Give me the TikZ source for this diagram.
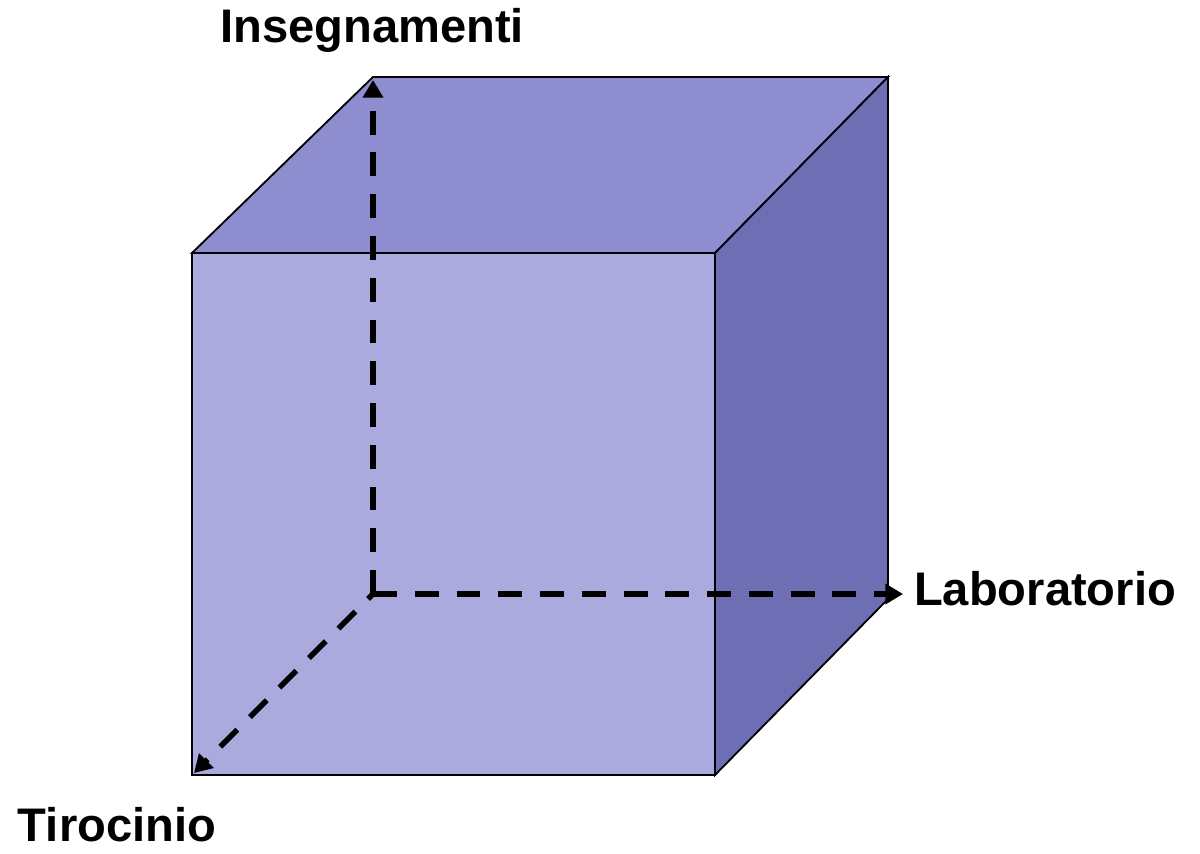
\documentclass[tikz,border=0pt]{standalone}
\usepackage{fontspec}
\setmainfont{Liberation Sans}
\usepackage{xcolor}
\usepackage{tikz}
\usetikzlibrary{calc,arrows.meta}
\definecolor{front}{HTML}{AAAADF}
\definecolor{top}{HTML}{8D8DD0}
\definecolor{side}{HTML}{6E6EB5}
\tikzset{
  edge/.style={draw=black, line width=1.3pt, line join=miter},
  axis/.style={draw=black, line width=3.9pt, dash pattern=on 17pt off 12.7pt,
    -{Triangle[length=12.5pt,width=14pt]}},
  lbl/.style={text=black, inner sep=0pt, font=\fontsize{33.5}{38}\selectfont\bfseries}
}

\begin{document}
\begin{tikzpicture}[x=0.025cm,y=-0.025cm]
  \useasboundingbox (0,0) rectangle (1200,853);
  \coordinate (FA) at (192,253);
  \coordinate (FB) at (715,253);
  \coordinate (FC) at (715,775);
  \coordinate (FD) at (192,775);
  \coordinate (BA) at (373,77);
  \coordinate (BB) at (888,77);
  \coordinate (BC) at (888,599);
  \coordinate (O) at (373,594);

  % faces
  \filldraw[edge, fill=front] (FA)--(FB)--(FC)--(FD)--cycle;
  \filldraw[edge, fill=top] (FA)--(BA)--(BB)--(FB)--cycle;
  \filldraw[edge, fill=side] (FB)--(BB)--(BC)--(FC)--cycle;

  % axes
  \coordinate (up) at (373,80);
  \coordinate (right) at (903,594);
  \coordinate (down) at (194,773);
  \draw[axis] (O)--(up);
  \draw[axis] (O)--(right);
  \draw[axis, dash phase=12pt] (O)--(down);

  \node[lbl] (ins) at (372,30) {Insegnamenti};
  \node[lbl] (lab) at (1045,589) {Laboratorio};
  \node[lbl] (tir) at (117,825) {Tirocinio};
\end{tikzpicture}
\end{document}
